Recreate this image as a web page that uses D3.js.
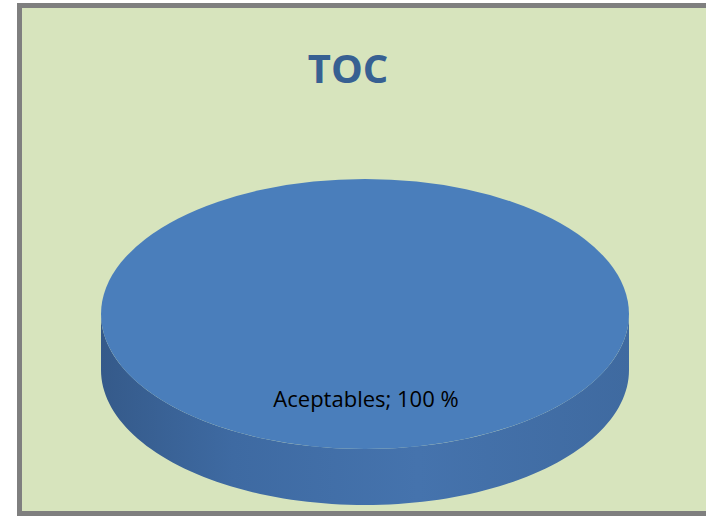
<!DOCTYPE html>
<html><head><meta charset="utf-8">
<script src="https://cdn.jsdelivr.net/npm/d3@7"></script>
<style>html,body{margin:0;padding:0;background:#fff;}svg{display:block;}</style>
</head><body>
<script>
const categories = ["Aceptables"];
const values = [100];
const title = "TOC";

const W = 706, H = 516;
const svg = d3.select("body").append("svg").attr("width", W).attr("height", H);

const defs = svg.append("defs");
const sideGrad = defs.append("linearGradient").attr("id", "side").attr("x1", "0").attr("x2", "1").attr("y1", "0").attr("y2", "0");
sideGrad.append("stop").attr("offset", "0").attr("stop-color", "#355a8a");
sideGrad.append("stop").attr("offset", "0.25").attr("stop-color", "#3e6aa2");
sideGrad.append("stop").attr("offset", "0.6").attr("stop-color", "#4573ad");
sideGrad.append("stop").attr("offset", "1").attr("stop-color", "#3f6aa0");

// background + border
svg.append("rect").attr("x", 19.5).attr("y", 5.5).attr("width", 700).attr("height", 508)
  .attr("fill", "#d7e4bd").attr("stroke", "#7f7f7f").attr("stroke-width", 5);

svg.append("text").attr("x", 348).attr("y", 83).attr("text-anchor", "middle")
  .attr("font-family", "Open Sans, sans-serif").attr("font-weight", "bold")
  .attr("font-size", 40).attr("fill", "#376092").text(title);

const cx = 365, cy = 314, rx = 264, ry = 135, depth = 56;
const pie = d3.pie().sort(null).value(d => d)(values);
const arc = d3.arc().innerRadius(0).outerRadius(rx);
const color = d3.scaleOrdinal().domain(categories).range(["#4a7ebb"]);

const g = svg.append("g").attr("transform", `translate(${cx},${cy})`);

// side wall (front half)
const p = d3.path();
p.moveTo(-rx, 0);
p.lineTo(-rx, depth);
const N = 100;
for (let i = 0; i <= N; i++) {
  const t = Math.PI - Math.PI * i / N;
  p.lineTo(rx * Math.cos(t), depth + ry * Math.sin(t));
}
p.lineTo(rx, 0);
for (let i = 0; i <= N; i++) {
  const t = Math.PI * i / N;
  p.lineTo(rx * Math.cos(t), ry * Math.sin(t));
}
p.closePath();
g.append("path").attr("d", p.toString()).attr("fill", "url(#side)");

// top face
g.append("g").attr("transform", `scale(1,${ry / rx})`)
  .selectAll("path").data(pie).join("path")
  .attr("d", arc).attr("fill", (d, i) => color(categories[i]));

g.selectAll("text.lbl").data(pie).join("text").attr("class", "lbl")
  .attr("x", 1).attr("y", 93).attr("text-anchor", "middle")
  .attr("font-family", "Open Sans, sans-serif").attr("font-size", 22).attr("fill", "#000")
  .text((d, i) => `${categories[i]}; ${values[i]} %`);
</script>
</body></html>
